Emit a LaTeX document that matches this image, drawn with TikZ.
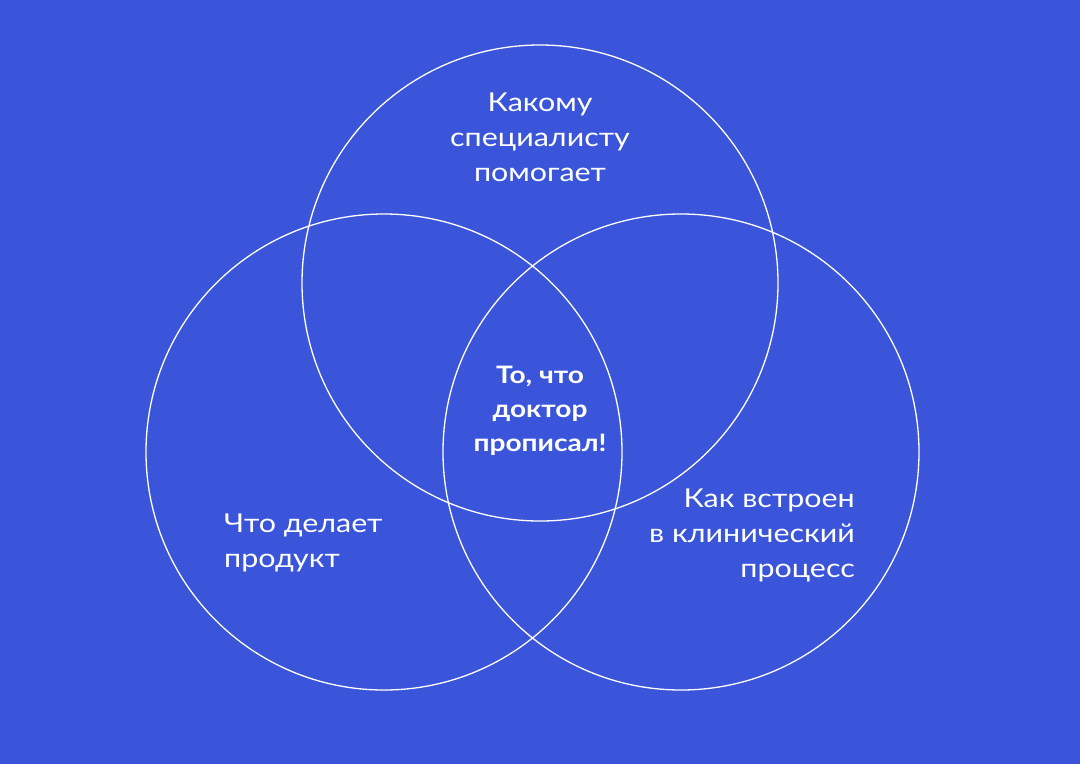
\documentclass[tikz,border=0pt]{standalone}
\usepackage{fontspec}
\setmainfont{Lato}[FakeStretch=1.17]
\definecolor{vennblue}{RGB}{58,85,218}
\tikzset{font=\fontsize{26}{35}\selectfont}
\tikzset{ring/.style={circle, draw=white, line width=1.3pt, minimum size=476pt, inner sep=0pt}}
\tikzset{lbl/.style={text=white, inner sep=0pt}}

\begin{document}
\begin{tikzpicture}[x=1pt,y=-1pt]
\fill[vennblue] (0,0) rectangle (1080,764);
\useasboundingbox (0,0) rectangle (1080,764);
\node[ring] (who) at (540,283) {};
\node[ring] (what) at (384,452) {};
\node[ring] (how) at (681,452) {};
\node[lbl, align=center] (whotext) at (540,137) {Какому\\специалисту\\помогает};
\node[lbl, align=left, anchor=west] (whattext) at (224,543) {Что делает\\продукт};
\node[lbl, align=right, anchor=east] (howtext) at (855,535) {Как встроен\\в клинический\\процесс};
\node[lbl, align=center, font=\fontsize{24}{34}\selectfont\bfseries] (core) at (540,411) {То, что\\доктор\\прописал!};
\end{tikzpicture}
\end{document}
